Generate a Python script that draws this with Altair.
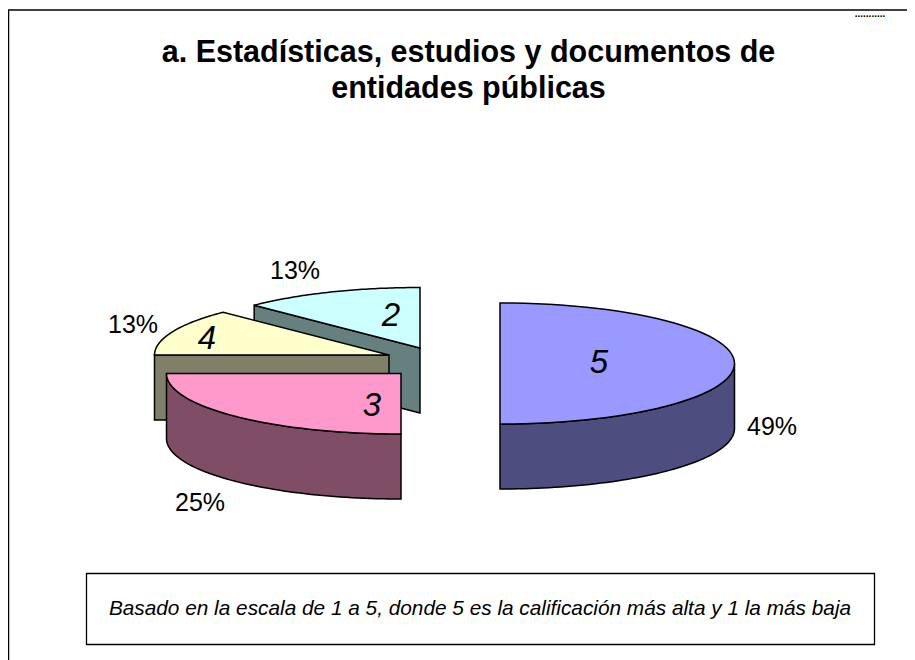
import math
import altair as alt
import pandas as pd

# --- chart values ---
categories = ["5", "3", "4", "2"]
slice_weights = [4, 2, 1, 1]  # slice sweep
share_labels = ["49%", "25%", "13%", "13%"]
top_colors = ["#9999FF", "#FF99CC", "#FFFFCC", "#CCFFFF"]
wall_colors = ["#4D4D80", "#804D66", "#80806A", "#668080"]
title_lines = ["a. Estadísticas, estudios y documentos de", "entidades públicas"]
note = "Basado en la escala de 1 a 5, donde 5 es la calificación más alta y 1 la más baja"

# --- drawing geometry (page pixels) ---
apex = {"5": (500, 363.5), "3": (401, 373.5), "4": (389, 355), "2": (420, 348)}
RX, RY, DEPTH = 234.5, 60.5, 65
cat_pos = {"5": (599, 363), "3": (372, 406), "4": (207, 339), "2": (391, 316)}
pct_pos = {"5": (772, 427), "3": (200, 503), "4": (133, 325), "2": (295, 271)}

W, H = 899, 652
X = alt.X("x:Q", scale=alt.Scale(domain=[8, 907], nice=False, zero=False), axis=None)
Y = alt.Y("y:Q", scale=alt.Scale(domain=[660, 8], nice=False, zero=False), axis=None)


def rim(cat, a0, a1, dy=0, n=60):
    cx, cy = apex[cat]
    pts = []
    for i in range(n + 1):
        t = math.radians(a0 + (a1 - a0) * i / n)
        pts.append((cx + RX * math.sin(t), cy - RY * math.cos(t) + dy))
    return pts


def poly(pts, fill):
    df = pd.DataFrame({"x": [p[0] for p in pts], "y": [p[1] for p in pts], "o": range(len(pts))})
    return (
        alt.Chart(df)
        .mark_line(fill=fill, stroke="#000000", strokeWidth=1.5, interpolate="linear-closed", clip=False)
        .encode(x=X, y=Y, order="o:Q")
    )


# slice angle ranges, clockwise from 12 o'clock
total = sum(slice_weights)
ranges = {}
acc = 0
for c, s in zip(categories, slice_weights):
    ranges[c] = (acc / total * 360, (acc + s) / total * 360)
    acc += s
tops = dict(zip(categories, top_colors))
walls = dict(zip(categories, wall_colors))

layers = []

# slice 2 : radial wall and top
a0, a1 = ranges["2"]
c2 = apex["2"]
e2 = rim("2", a0, a0, n=1)[0]
layers.append(poly([e2, c2, (c2[0], c2[1] + DEPTH), (e2[0], e2[1] + DEPTH)], walls["2"]))
layers.append(poly(rim("2", a0, a1) + [c2], tops["2"]))

# slice 4 : radial wall and top
a0, a1 = ranges["4"]
c4 = apex["4"]
e4 = rim("4", a0, a0, n=1)[0]
layers.append(poly([e4, c4, (c4[0], c4[1] + DEPTH), (e4[0], e4[1] + DEPTH)], walls["4"]))
layers.append(poly(rim("4", a0, a1) + [c4], tops["4"]))

# slice 3 : outer wall and top
a0, a1 = ranges["3"]
c3 = apex["3"]
layers.append(poly(rim("3", a0, a1) + rim("3", a1, a0, dy=DEPTH), walls["3"]))
layers.append(poly(rim("3", a0, a1) + [c3], tops["3"]))

# slice 5 : outer wall and top
a0, a1 = ranges["5"]
c5 = apex["5"]
layers.append(poly(rim("5", 90, a1) + rim("5", a1, 90, dy=DEPTH), walls["5"]))
layers.append(poly(rim("5", a0, a1) + [c5], tops["5"]))


def text(rows, size, **kw):
    df = pd.DataFrame(rows, columns=["x", "y", "t"])
    return (
        alt.Chart(df)
        .mark_text(font="Liberation Sans", fontSize=size, color="#000000", align="center", baseline="middle", **kw)
        .encode(x=X, y=Y, text="t:N")
    )


layers.append(text([(*cat_pos[c], c) for c in categories], 33, fontStyle="italic"))
layers.append(text([(*pct_pos[c], l) for c, l in zip(categories, share_labels)], 25))
layers.append(text([(468.5, 53, title_lines[0]), (468.5, 89, title_lines[1])], 30.5, fontWeight="bold"))

# frame and note box
frame_top = pd.DataFrame({"x": [8], "x2": [907], "y": [10]})
frame_left = pd.DataFrame({"x": [8.5], "y": [10], "y2": [660]})
box = pd.DataFrame({"x": [86.5], "x2": [874.5], "y": [573.5], "y2": [644.5]})
layers.append(alt.Chart(frame_top).mark_rule(color="#000000", strokeWidth=1.5).encode(x=X, x2="x2:Q", y=Y))
layers.append(alt.Chart(frame_left).mark_rule(color="#000000", strokeWidth=1.5).encode(x=X, y=Y, y2="y2:Q"))
layers.append(
    alt.Chart(box).mark_rect(fill="#FFFFFF", stroke="#000000", strokeWidth=1.3).encode(x=X, x2="x2:Q", y=Y, y2="y2:Q")
)
layers.append(text([(480, 609, note)], 20.8, fontStyle="italic"))
layers.append(text([(870, 14, "...........")], 10, fontWeight="bold"))

chart = (
    alt.layer(*layers)
    .properties(width=W, height=H, padding=0, autosize=alt.AutoSizeParams(type="none"), background="#FFFFFF")
    .configure_view(stroke=None)
)
chart.save("out.html", embed_options={"renderer": "svg", "actions": False})
